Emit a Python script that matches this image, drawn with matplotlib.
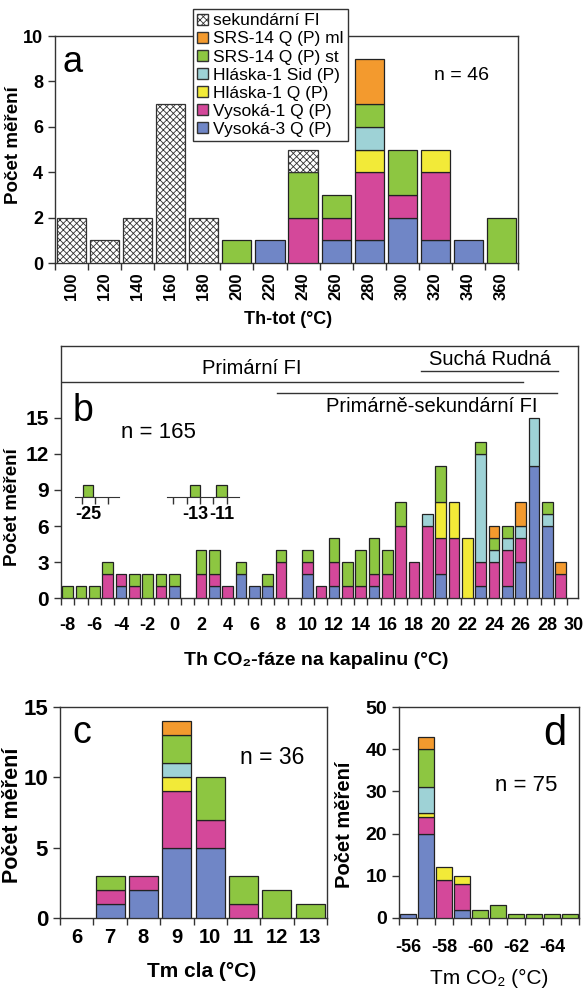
import numpy as np
import matplotlib.pyplot as plt
from matplotlib.patches import Patch
from matplotlib.ticker import FixedLocator

plt.rcParams['font.family'] = ['Liberation Sans', 'DejaVu Sans']
plt.rcParams['axes.unicode_minus'] = False
plt.rcParams['hatch.linewidth'] = 0.6

# serie (odspodu nahoru)
series = ['Vysoká-3 Q (P)', 'Vysoká-1 Q (P)', 'Hláska-1 Q (P)',
          'Hláska-1 Sid (P)', 'SRS-14 Q (P) st', 'SRS-14 Q (P) ml']
colors = ['#7086C6', '#D4489A', '#F2EA38', '#9ED2D6', '#8DC641', '#F39A2E']

# a) Th-tot
a_bins = [100, 120, 140, 160, 180, 200, 220, 240, 260, 280, 300, 320, 340, 360]
a_v3 = [0, 0, 0, 0, 0, 0, 1, 0, 1, 1, 2, 1, 1, 0]
a_v1 = [0, 0, 0, 0, 0, 0, 0, 2, 1, 3, 1, 3, 0, 0]
a_hq = [0, 0, 0, 0, 0, 0, 0, 0, 0, 1, 0, 1, 0, 0]
a_hsid = [0, 0, 0, 0, 0, 0, 0, 0, 0, 1, 0, 0, 0, 0]
a_st = [0, 0, 0, 0, 0, 1, 0, 2, 1, 1, 2, 0, 0, 2]
a_ml = [0, 0, 0, 0, 0, 0, 0, 0, 0, 2, 0, 0, 0, 0]
a_sec = [2, 1, 2, 7, 2, 0, 0, 1, 0, 0, 0, 0, 0, 0]

# b) Th CO2 faze (biny -8 .. 29)
b_bins = list(range(-8, 30))
b_v3 = [0, 0, 0, 0, 1, 0, 0, 0, 1, 0,  0, 1, 0, 2, 1, 1, 0, 0, 2, 0,
        1, 0, 0, 1, 0, 0, 0, 0, 2, 0,  0, 1, 0, 1, 3, 11, 6, 0]
b_v1 = [0, 0, 0, 2, 1, 1, 0, 1, 0, 0,  2, 1, 1, 0, 0, 0, 3, 0, 1, 1,
        2, 1, 1, 1, 2, 6, 3, 6, 3, 5,  0, 2, 3, 3, 2, 0, 0, 2]
b_hq = [0, 0, 0, 0, 0, 0, 0, 0, 0, 0,  0, 0, 0, 0, 0, 0, 0, 0, 0, 0,
        0, 0, 0, 0, 0, 0, 0, 0, 3, 3,  5, 0, 0, 0, 0, 0, 0, 0]
b_hsid = [0, 0, 0, 0, 0, 0, 0, 0, 0, 0,  0, 0, 0, 0, 0, 0, 0, 0, 0, 0,
          0, 0, 0, 0, 0, 0, 0, 1, 0, 0,  0, 9, 1, 1, 1, 4, 1, 0]
b_st = [1, 1, 1, 1, 0, 1, 2, 1, 1, 0,  2, 2, 0, 1, 0, 1, 1, 0, 1, 0,
        2, 2, 3, 3, 2, 2, 0, 0, 3, 0,  0, 1, 1, 1, 0, 0, 1, 0]
b_ml = [0, 0, 0, 0, 0, 0, 0, 0, 0, 0,  0, 0, 0, 0, 0, 0, 0, 0, 0, 0,
        0, 0, 0, 0, 0, 0, 0, 0, 0, 0,  0, 0, 1, 0, 2, 0, 0, 1]
# odlehle hodnoty (vlozky)
b_far1_bins = [-25]
b_far1_st = [1]
b_far2_bins = [-13, -11]
b_far2_st = [1, 1]

# c) Tm cla
c_bins = [6, 7, 8, 9, 10, 11, 12, 13]
c_v3 = [0, 1, 2, 5, 5, 0, 0, 0]
c_v1 = [0, 1, 1, 4, 2, 1, 0, 0]
c_hq = [0, 0, 0, 1, 0, 0, 0, 0]
c_hsid = [0, 0, 0, 1, 0, 0, 0, 0]
c_st = [0, 1, 0, 2, 3, 2, 2, 1]
c_ml = [0, 0, 0, 1, 0, 0, 0, 0]

# d) Tm CO2
d_bins = [-56, -57, -58, -59, -60, -61, -62, -63, -64, -65]
d_v3 = [1, 20, 0, 2, 0, 0, 0, 0, 0, 0]
d_v1 = [0, 4, 9, 6, 0, 0, 0, 0, 0, 0]
d_hq = [0, 1, 3, 2, 0, 0, 0, 0, 0, 0]
d_hsid = [0, 6, 0, 0, 0, 0, 0, 0, 0, 0]
d_st = [0, 9, 0, 0, 2, 3, 1, 1, 1, 1]
d_ml = [0, 3, 0, 0, 0, 0, 0, 0, 0, 0]

W, H = 587, 991
fig = plt.figure(figsize=(W / 100, H / 100), dpi=100)


def px_axes(l, t, r, b):
    return fig.add_axes([l / W, 1 - b / H, (r - l) / W, (b - t) / H])


def stack(ax, x, layers, width, sec=None):
    x = np.array(x, dtype=float)
    bottom = np.zeros(len(x))
    for vals, col in zip(layers, colors):
        vals = np.array(vals, dtype=float)
        m = vals > 0
        ax.bar(x[m], vals[m], width, bottom=bottom[m], color=col, edgecolor='#222222',
               linewidth=0.9, zorder=3)
        bottom += vals
    if sec is not None:
        sec = np.array(sec, dtype=float)
        m = sec > 0
        ax.bar(x[m], sec[m], width, bottom=bottom[m], color='white', hatch='xxxxx',
               edgecolor='#333333', linewidth=0.9, zorder=3)


def style(ax, fs_x, fs_y, pad_x=6):
    for s in ax.spines.values():
        s.set_linewidth(1.0)
        s.set_color('#333333')
    ax.tick_params(axis='both', which='both', direction='out', color='#333333')
    ax.tick_params(axis='x', which='major', length=0, labelsize=fs_x, pad=pad_x)
    ax.tick_params(axis='x', which='minor', length=5, width=1)
    ax.tick_params(axis='y', which='major', length=5, width=1, labelsize=fs_y)
    for lab in ax.get_xticklabels() + ax.get_yticklabels():
        lab.set_fontweight('bold')


# ---------- a ----------
ax = px_axes(55, 36, 518, 263)
xa = np.arange(len(a_bins))
stack(ax, xa, [a_v3, a_v1, a_hq, a_hsid, a_st, a_ml], 0.88, sec=a_sec)
ax.set_xlim(-0.5, len(a_bins) - 0.5)
ax.set_ylim(0, 10)
ax.set_yticks([0, 2, 4, 6, 8, 10])
ax.set_xticks(xa)
ax.set_xticklabels([str(v) for v in a_bins], rotation=90)
ax.xaxis.set_minor_locator(FixedLocator(np.arange(-0.5, len(a_bins), 1)))
style(ax, 12, 13, pad_x=7)
ax.set_xlabel('Th-tot (°C)', fontsize=13, fontweight='bold', va='top')
ax.xaxis.set_label_coords(0.503, -0.21)
ax.set_ylabel('Počet měření', fontsize=13.5, fontweight='bold')
ax.yaxis.set_label_coords(-0.072, 0.52)
ax.text(0.039, 0.885, 'a', transform=ax.transAxes, fontsize=26, ha='center', va='center')
ax.text(0.879, 0.828, 'n = 46', transform=ax.transAxes, fontsize=14, ha='center', va='center')

handles = [Patch(facecolor='white', edgecolor='#333333', hatch='xxxxx', label='sekundární FI')]
for lab, col in list(zip(series, colors))[::-1]:
    handles.append(Patch(facecolor=col, edgecolor='#333333', label=lab))
leg = fig.legend(handles=handles, loc='upper left', bbox_to_anchor=(193 / W, 1 - 9 / H),
                 fontsize=12.5, frameon=True, fancybox=False, edgecolor='#333333',
                 handlelength=0.6, handleheight=0.6, handletextpad=0.3,
                 labelspacing=0.18, borderpad=0.25, borderaxespad=0, framealpha=1)
leg.get_frame().set_linewidth(1.0)

# ---------- b ----------
ax = px_axes(61, 346, 578, 598)
stack(ax, b_bins, [b_v3, b_v1, b_hq, b_hsid, b_st, b_ml], 0.8)
ax.set_xlim(-8.5, 30.3)
ax.set_ylim(0, 21)
ax.set_yticks([0, 3, 6, 9, 12, 15])
ax.set_xticks(range(-8, 31, 2))
ax.xaxis.set_minor_locator(FixedLocator(np.arange(-8.5, 30, 1)))
style(ax, 13, 15, pad_x=14)
ax.set_xlabel('Th CO₂-fáze na kapalinu (°C)', fontsize=14, fontweight='bold', va='top')
ax.xaxis.set_label_coords(0.494, -0.215)
ax.set_ylabel('Počet měření', fontsize=13.5, fontweight='bold')
ax.yaxis.set_label_coords(-0.078, 0.361)
ax.text(0.0426, 0.742, 'b', transform=ax.transAxes, fontsize=27, ha='center', va='center')
ax.text(0.188, 0.655, 'n = 165', transform=ax.transAxes, fontsize=16, ha='center', va='center')

# hlavicka
ax.plot([-8.5, 26.2], [18.0, 18.0], color='#333333', lw=1.0)
ax.text(5.8, 18.3, 'Primární FI', fontsize=14.5, ha='center', va='bottom')
ax.plot([7.7, 28.7], [17.05, 17.05], color='#333333', lw=1.0)
ax.text(19.3, 16.75, 'Primárně-sekundární FI', fontsize=14.5, ha='center', va='top')
ax.plot([18.55, 28.8], [18.95, 18.95], color='#333333', lw=1.0)
ax.text(23.7, 19.05, 'Suchá Rudná', fontsize=14.5, ha='center', va='bottom')

# vlozky s odlehlymi hodnotami
for x0, wd, bins, vals, lims in [(-7.45, 3.32, b_far1_bins, b_far1_st, (-25.97, -22.65)),
                                 (-0.57, 5.45, b_far2_bins, b_far2_st, (-15.12, -9.67))]:
    ins = ax.inset_axes([x0, 8.39, wd, 1.3], transform=ax.transData)
    ins.bar(bins, vals, 0.8, color=colors[4], edgecolor='#222222', linewidth=0.9)
    ins.set_xlim(*lims)
    ins.set_ylim(0, 1.3)
    ins.patch.set_visible(False)
    for k in ['top', 'left', 'right']:
        ins.spines[k].set_visible(False)
    ins.spines['bottom'].set_color('#333333')
    ins.set_yticks([])
    ins.set_xticks(bins)
    ins.set_xticklabels([str(v) for v in bins], fontsize=13, fontweight='bold')
    ins.xaxis.set_minor_locator(FixedLocator(np.arange(lims[0] + 0.5, lims[1], 1)))
    ins.tick_params(axis='x', which='major', length=0, pad=6)
    ins.tick_params(axis='x', which='minor', length=5, width=1, color='#333333')

# ---------- c ----------
ax = px_axes(60, 707, 327, 918)
stack(ax, c_bins, [c_v3, c_v1, c_hq, c_hsid, c_st, c_ml], 0.87)
ax.set_xlim(5.5, 13.5)
ax.set_ylim(0, 15)
ax.set_yticks([0, 5, 10, 15])
ax.set_xticks(c_bins)
ax.xaxis.set_minor_locator(FixedLocator(np.arange(5.5, 13.6, 1)))
style(ax, 14.5, 16, pad_x=7)
ax.set_xlabel('Tm cla (°C)', fontsize=15, fontweight='bold', va='top')
ax.xaxis.set_label_coords(0.532, -0.21)
ax.set_ylabel('Počet měření', fontsize=15.5, fontweight='bold')
ax.yaxis.set_label_coords(-0.14, 0.488)
ax.text(0.082, 0.877, 'c', transform=ax.transAxes, fontsize=27, ha='center', va='center')
ax.text(0.794, 0.763, 'n = 36', transform=ax.transAxes, fontsize=16.5, ha='center', va='center')

# ---------- d ----------
ax = px_axes(399, 707, 579, 918)
stack(ax, d_bins, [d_v3, d_v1, d_hq, d_hsid, d_st, d_ml], 0.88)
ax.set_xlim(-55.5, -65.5)
ax.set_ylim(0, 50)
ax.set_yticks([0, 10, 20, 30, 40, 50])
ax.set_xticks([-56, -58, -60, -62, -64])
ax.xaxis.set_minor_locator(FixedLocator(np.arange(-55.5, -65.6, -1)))
style(ax, 13, 14, pad_x=15)
ax.set_xlabel('Tm CO₂ (°C)', fontsize=15, va='top')
ax.xaxis.set_label_coords(0.5, -0.24)
ax.set_ylabel('Počet měření', fontsize=14.5, fontweight='bold')
ax.yaxis.set_label_coords(-0.25, 0.44)
ax.text(0.867, 0.872, 'd', transform=ax.transAxes, fontsize=30, ha='center', va='center')
ax.text(0.706, 0.63, 'n = 75', transform=ax.transAxes, fontsize=16, ha='center', va='center')

fig.savefig('out.png', dpi=100)
